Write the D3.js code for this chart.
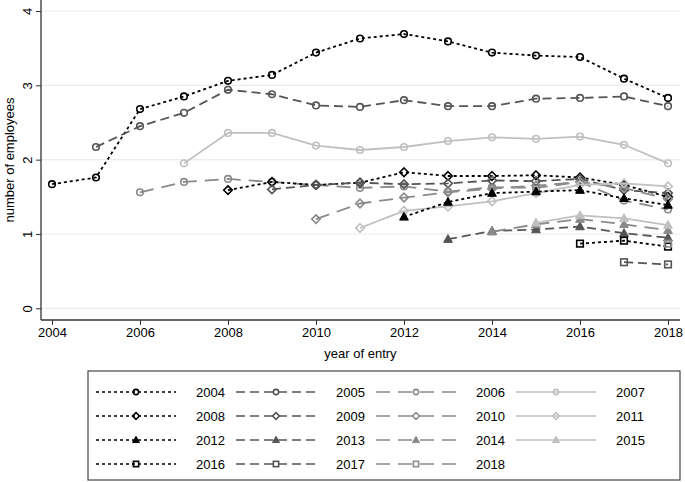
<!DOCTYPE html>
<html><head><meta charset="utf-8">
<script src="https://cdn.jsdelivr.net/npm/d3@7/dist/d3.min.js"></script>
<style>body{margin:0;background:#fff}svg{display:block}text{font-family:"Liberation Sans",Arial,sans-serif;fill:#000}</style>
</head><body><svg id="c" width="685" height="482"></svg>
<script>
const xTicks = [2004, 2006, 2008, 2010, 2012, 2014, 2016, 2018];
const yTicks = [0, 1, 2, 3, 4];
const cohorts = [2004,2005,2006,2007,2008,2009,2010,2011,2012,2013,2014,2015,2016,2017,2018];
const v2004 = [1.67,1.76,2.68,2.85,3.06,3.14,3.44,3.63,3.69,3.59,3.44,3.40,3.38,3.09,2.83];
const v2005 = [2.17,2.45,2.63,2.94,2.88,2.73,2.71,2.80,2.72,2.72,2.82,2.83,2.85,2.72];
const v2006 = [1.56,1.70,1.74,1.70,1.66,1.62,1.64,1.57,1.63,1.62,1.70,1.45,1.33];
const v2007 = [1.95,2.36,2.36,2.19,2.13,2.17,2.25,2.30,2.28,2.31,2.20,1.95];
const v2008 = [1.59,1.70,1.66,1.69,1.83,1.78,1.78,1.79,1.76,1.66,1.50];
const v2009 = [1.60,1.66,1.69,1.67,1.68,1.72,1.71,1.74,1.59,1.55];
const v2010 = [1.20,1.41,1.49,1.56,1.61,1.65,1.70,1.62,1.47];
const v2011 = [1.08,1.31,1.37,1.44,1.55,1.66,1.68,1.64];
const v2012 = [1.23,1.43,1.55,1.57,1.59,1.48,1.39];
const v2013 = [0.93,1.04,1.06,1.10,1.01,0.95];
const v2014 = [1.03,1.13,1.20,1.13,1.05];
const v2015 = [1.15,1.25,1.21,1.12];
const v2016 = [0.87,0.91,0.83];
const v2017 = [0.62,0.59];
const v2018 = [0.87];
const values = [v2004,v2005,v2006,v2007,v2008,v2009,v2010,v2011,v2012,v2013,v2014,v2015,v2016,v2017,v2018];

const series = cohorts.map((c,i)=>({name:String(c), idx:i, pts: values[i].map((v,j)=>({x:c+j, y:v}))}));

const colors = ["#000000","#555555","#8a8a8a","#c0c0c0"];
const dashes = ["3,3","9,5","14,8",null];
const shapes = ["circle","diamond","triangle","square"];

const svg = d3.select("#c");
const L = 41, R = 680, T = 0, B = 320;
const x = d3.scaleLinear().domain([2004, 2018]).range([52, 668]);
const y = d3.scaleLinear().domain([0, 4]).range([308.3, 11]);

// grid
svg.append("g").selectAll("line").data(yTicks).join("line")
  .attr("x1", L).attr("x2", R).attr("y1", d=>y(d)).attr("y2", d=>y(d))
  .attr("stroke", "#e6eef0").attr("stroke-width", 1.2);

// axes
const yAxis = svg.append("g").attr("transform", `translate(${L},0)`)
  .call(d3.axisLeft(y).tickValues(yTicks).tickSize(5).tickFormat(d3.format("d")));
yAxis.select(".domain").attr("d", `M0,${T}V${B}`).attr("stroke","#333").attr("stroke-width",1.3);
yAxis.selectAll(".tick line").attr("stroke","#333");
yAxis.selectAll(".tick text").attr("font-size", 13).attr("font-family","Liberation Sans, Arial, sans-serif")
  .attr("transform", "rotate(-90)").attr("text-anchor","middle").attr("x", 0).attr("y", -9).attr("dy","0");

const xAxis = svg.append("g").attr("transform", `translate(0,${B})`)
  .call(d3.axisBottom(x).tickValues(xTicks).tickSize(5).tickFormat(d3.format("d")));
xAxis.select(".domain").attr("d", `M${L},0H${R}`).attr("stroke","#333").attr("stroke-width",1.3);
xAxis.selectAll(".tick line").attr("stroke","#333");
xAxis.selectAll(".tick text").attr("font-size", 13).attr("font-family","Liberation Sans, Arial, sans-serif").attr("y", 8);

svg.append("text").attr("x", (L+R)/2).attr("y", 358).attr("text-anchor","middle").attr("font-size", 13).text("year of entry");
svg.append("text").attr("transform", `translate(14,${(T+B)/2}) rotate(-90)`).attr("text-anchor","middle").attr("font-size", 13).text("number of employees");

function marker(g, shape, color, cx, cy, s) {
  if (shape === "circle") {
    g.append("circle").attr("cx", cx).attr("cy", cy).attr("r", 3.3*s).attr("fill","none").attr("stroke", color).attr("stroke-width", 1.6);
  } else if (shape === "diamond") {
    const r = 4.3*s;
    g.append("path").attr("d", `M${cx},${cy-r}L${cx+r},${cy}L${cx},${cy+r}L${cx-r},${cy}Z`).attr("fill","none").attr("stroke", color).attr("stroke-width", 1.6);
  } else if (shape === "triangle") {
    const r = 4.6*s;
    g.append("path").attr("d", `M${cx},${cy-r}L${cx+r*0.95},${cy+r*0.7}L${cx-r*0.95},${cy+r*0.7}Z`).attr("fill", color).attr("stroke", color).attr("stroke-width", 1);
  } else {
    const r = 3.3*s;
    g.append("rect").attr("x", cx-r).attr("y", cy-r).attr("width", 2*r).attr("height", 2*r).attr("fill","none").attr("stroke", color).attr("stroke-width", 1.6);
  }
}

const line = d3.line().x(d=>x(d.x)).y(d=>y(d.y));
const plot = svg.append("g");
series.forEach(s => {
  const ci = s.idx % 4, si = Math.floor(s.idx / 4);
  const g = plot.append("g");
  g.append("path").datum(s.pts).attr("d", line).attr("fill","none")
    .attr("stroke", colors[ci]).attr("stroke-width", 1.8)
    .attr("stroke-dasharray", dashes[ci]);
  s.pts.forEach(p => marker(g, shapes[si], colors[ci], x(p.x), y(p.y), 1));
});

// legend
const lg = svg.append("g");
lg.append("rect").attr("x", 88).attr("y", 371).attr("width", 592).attr("height", 109)
  .attr("fill","#fff").attr("stroke","#444").attr("stroke-width",1.2);
const colX = [96, 236, 376, 516];
const rowY = [392, 416, 440, 464];
series.forEach(s => {
  const ci = s.idx % 4, si = Math.floor(s.idx / 4);
  const lx = colX[ci], ly = rowY[si];
  const item = lg.append("g");
  item.append("line").attr("x1", lx).attr("x2", lx+80).attr("y1", ly).attr("y2", ly)
    .attr("stroke", colors[ci]).attr("stroke-width", 1.5).attr("stroke-dasharray", dashes[ci]);
  marker(item, shapes[si], colors[ci], lx+40, ly, 0.8);
  item.append("text").attr("x", lx+100).attr("y", ly+4.5).attr("font-size", 13).text(s.name);
});
</script></body></html>
